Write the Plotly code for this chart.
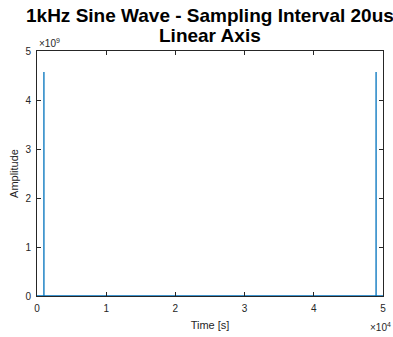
import plotly.graph_objects as go

# Data (sparse: everything zero except two spikes)
sample_index = [0, 999, 1000, 1001, 48999, 49000, 49001, 49999]
amplitude = [0, 0, 4.57e9, 0, 0, 4.57e9, 0, 0]

x_tickvals = [0, 10000, 20000, 30000, 40000, 50000]
x_ticktext = ["0", "1", "2", "3", "4", "5"]
y_tickvals = [0, 1e9, 2e9, 3e9, 4e9, 5e9]
y_ticktext = ["0", "1", "2", "3", "4", "5"]
title_lines = ["1kHz Sine Wave - Sampling Interval 20us", "Linear Axis"]

FONT = "Liberation Sans, Arial, Helvetica, sans-serif"
AX = "#262626"
PLOT_TOP, PLOT_H = 51, 247

fig = go.Figure()
fig.add_trace(go.Scatter(x=sample_index, y=amplitude, mode="lines",
                         line=dict(color="#0072BD", width=1.3),
                         showlegend=False, hoverinfo="skip"))

annotations = [
    dict(text="×10<sup>9</sup>", xref="paper", yref="paper", x=0, y=1,
         xanchor="left", yanchor="bottom", showarrow=False,
         font=dict(size=10, color=AX)),
    dict(text="×10<sup>4</sup>", xref="paper", yref="paper", x=1, y=0,
         xanchor="right", yanchor="top", yshift=-23, xshift=10, showarrow=False,
         font=dict(size=10, color=AX)),
]
for txt, cy in zip(title_lines, [15, 35.5]):
    annotations.append(dict(text="<b>" + txt + "</b>", xref="paper", yref="paper",
                            x=0.5, y=1 + (PLOT_TOP - cy) / PLOT_H,
                            xanchor="center", yanchor="middle", showarrow=False,
                            font=dict(family=FONT, size=19, color="black")))

fig.update_layout(
    width=393, height=337,
    margin=dict(l=37, r=7, t=PLOT_TOP, b=39),
    paper_bgcolor="white", plot_bgcolor="white",
    font=dict(family=FONT, size=10, color=AX),
    xaxis=dict(range=[0, 50000], tickvals=x_tickvals, ticktext=x_ticktext,
               showgrid=False, zeroline=False, showline=True, linecolor=AX,
               linewidth=1, mirror="ticks", ticks="inside", ticklen=4,
               tickcolor=AX, tickfont=dict(size=10, color=AX),
               ticklabelstandoff=3,
               title=dict(text="Time [s]", font=dict(size=11, color=AX), standoff=8)),
    yaxis=dict(range=[0, 5e9], tickvals=y_tickvals, ticktext=y_ticktext,
               showgrid=False, zeroline=False, showline=True, linecolor=AX,
               linewidth=1, mirror="ticks", ticks="inside", ticklen=4,
               tickcolor=AX, tickfont=dict(size=10, color=AX),
               ticklabelstandoff=3,
               title=dict(text="Amplitude", font=dict(size=11, color=AX), standoff=4)),
    annotations=annotations,
)

fig.write_html("out.html")
